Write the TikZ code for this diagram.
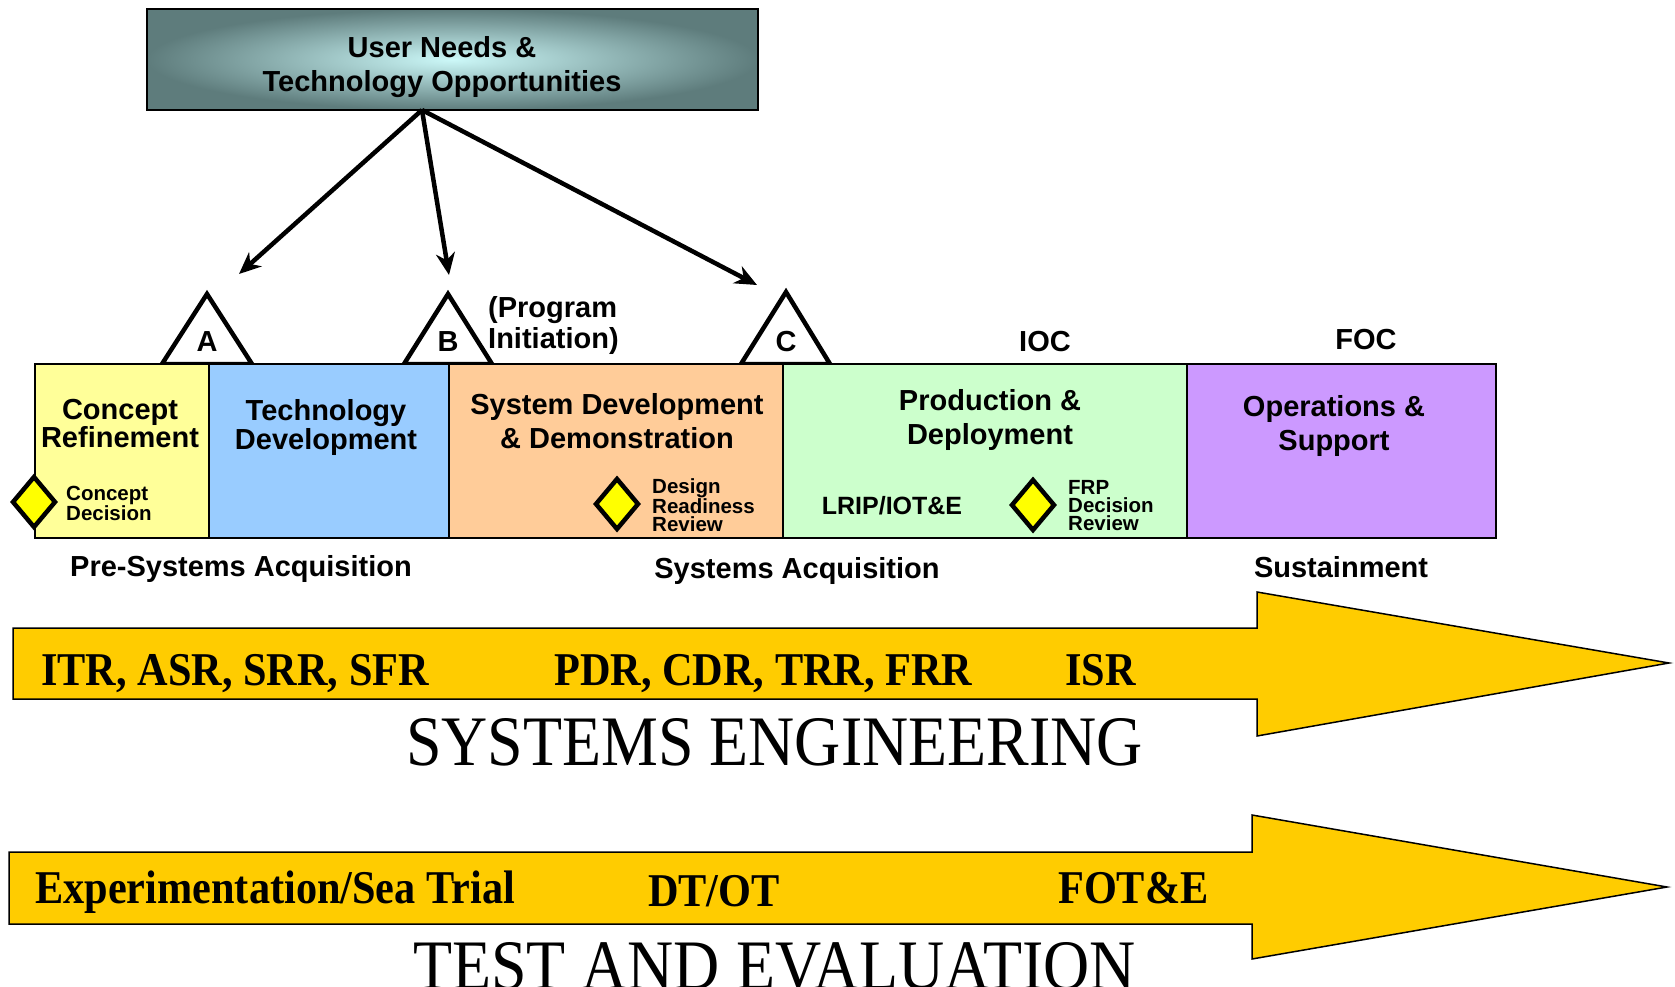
\documentclass[tikz,border=0pt]{standalone}
\usepackage{fontspec}
\setmainfont{Liberation Serif}
\setsansfont{Liberation Sans}
\newfontfamily\tallserif[FakeStretch=0.9]{Liberation Serif}
\usetikzlibrary{arrows.meta}
\definecolor{cryellow}{HTML}{FFFF99}
\definecolor{tdblue}{HTML}{99CCFF}
\definecolor{sdorange}{HTML}{FFCC99}
\definecolor{pdgreen}{HTML}{CCFFCC}
\definecolor{ospurple}{HTML}{CC99FF}
\definecolor{gold}{HTML}{FFCC00}
\definecolor{msyellow}{HTML}{FFFF00}
\definecolor{topin}{HTML}{CCF8F8}
\definecolor{topout}{HTML}{5E7C7C}
\tikzset{
  phase/.style={draw=black, line width=2pt, minimum height=174pt, inner sep=0pt},
  bigtxt/.style={font=\sffamily\bfseries\fontsize{29}{30}\selectfont, align=center, inner sep=0pt},
  smalltxt/.style={font=\sffamily\bfseries\fontsize{20.5}{18}\selectfont, align=left, inner sep=0pt, anchor=west},
  milestone/.style={draw=black, line width=4.5pt, fill=white, line join=miter},
  decision/.style={draw=black, line width=4.5pt, fill=msyellow, line join=miter},
  flowarrow/.style={line width=4.5pt, -{Stealth[length=22pt,width=19pt,inset=7pt]}},
  bigarrow/.style={draw=black, line width=1.5pt, fill=gold, line join=miter},
  revtxt/.style={font=\tallserif\bfseries\fontsize{47}{50}\selectfont, inner sep=0pt},
  titletxt/.style={font=\tallserif\fontsize{71}{75}\selectfont, inner sep=0pt, anchor=base},
}
\begin{document}
\begin{tikzpicture}[x=1pt,y=-1pt]
\useasboundingbox (0,0) rectangle (1675,987);
\clip (0,0) rectangle (1675,987);

% top box
\node[draw=black, line width=2pt, shading=radial, inner color=topin, outer color=topout,
      minimum width=611pt, minimum height=101pt, inner sep=0pt] (top) at (452.5,59.5) {};
\node[bigtxt, font=\sffamily\bfseries\fontsize{29}{34}\selectfont] (toptxt) at (442,67.5)
  {User Needs \&\\Technology Opportunities};
\coordinate (src) at (422,110);
\coordinate (eA) at (239,274);
\coordinate (eB) at (449,275);
\coordinate (eC) at (757,285);
\draw[flowarrow] (src) -- (eA);
\draw[flowarrow] (src) -- (eB);
\draw[flowarrow] (src) -- (eC);

% milestone triangles
\draw[milestone] (162,364) -- (207,294) -- (252,364) -- cycle;
\draw[milestone] (404,364) -- (448,294) -- (492,364) -- cycle;
\draw[milestone] (741,364) -- (786,292) -- (830,364) -- cycle;

% phase boxes
\node[phase, fill=cryellow, minimum width=174pt] (cr) at (122,451) {};
\node[phase, fill=tdblue, minimum width=240pt] (td) at (329,451) {};
\node[phase, fill=sdorange, minimum width=334pt] (sdd) at (616,451) {};
\node[phase, fill=pdgreen, minimum width=404pt] (pd) at (985,451) {};
\node[phase, fill=ospurple, minimum width=309pt] (os) at (1341.5,451) {};

% milestone letters
\node[bigtxt, anchor=base] (lA) at (207,351) {A};
\node[bigtxt, anchor=base] (lB) at (448,351) {B};
\node[bigtxt, anchor=base] (lC) at (786,351) {C};
\node[bigtxt, align=left, anchor=west, font=\sffamily\bfseries\fontsize{29}{31}\selectfont] (prog) at (488,326) {(Program\\Initiation)};
\node[bigtxt, anchor=base] (ioc) at (1045,351) {IOC};
\node[bigtxt, anchor=base] (foc) at (1366,349) {FOC};

% phase labels
\node[bigtxt, font=\sffamily\bfseries\fontsize{29}{28}\selectfont] (crt) at (120,423.5) {Concept\\Refinement};
\node[bigtxt, font=\sffamily\bfseries\fontsize{29}{29}\selectfont] (tdt) at (326,427) {Technology\\Development};
\node[bigtxt, font=\sffamily\bfseries\fontsize{29}{34}\selectfont] (sddt) at (617,421.5) {System Development\\\& Demonstration};
\node[bigtxt, font=\sffamily\bfseries\fontsize{29}{34}\selectfont] (pdt) at (990,419.5) {Production \&\\Deployment};
\node[bigtxt, font=\sffamily\bfseries\fontsize{29}{34}\selectfont] (ost) at (1334,425.5) {Operations \&\\Support};

% decision diamonds
\draw[decision] (34,477) -- (55,502) -- (34,527) -- (13,502) -- cycle;
\draw[decision] (617,479) -- (638,504) -- (617,529) -- (596,504) -- cycle;
\draw[decision] (1033,480) -- (1054,505) -- (1033,530) -- (1012,505) -- cycle;
\node[smalltxt, font=\sffamily\bfseries\fontsize{20.5}{19}\selectfont] (cdt) at (66,503) {Concept\\Decision};
\node[smalltxt] (drr) at (652,505) {Design\\Readiness\\Review};
\node[smalltxt] (frp) at (1068,506) {FRP\\Decision\\Review};
\node[bigtxt, anchor=base, font=\sffamily\bfseries\fontsize{25}{26}\selectfont] (lrip) at (892,514) {LRIP/IOT\&E};

% acquisition categories
\node[bigtxt, anchor=base] (pre) at (241,576) {Pre-Systems Acquisition};
\node[bigtxt, anchor=base] (sa) at (797,578) {Systems Acquisition};
\node[bigtxt, anchor=base] (sus) at (1341,577) {Sustainment};

% systems engineering arrow
\path[bigarrow] (13,628) -- (1257,628) -- (1257,592) -- (1669,663) -- (1257,736) -- (1257,699) -- (13,699) -- cycle;
\node[revtxt, anchor=base west] (se1) at (41,685) {ITR, ASR, SRR, SFR};
\node[revtxt, anchor=base west] (se2) at (554,685) {PDR, CDR, TRR, FRR};
\node[revtxt, anchor=base west] (se3) at (1065,685) {ISR};
\node[titletxt] (se) at (774.5,765) {SYSTEMS ENGINEERING};

% test and evaluation arrow
\path[bigarrow] (9,852) -- (1252,852) -- (1252,815) -- (1667,887) -- (1252,959) -- (1252,924) -- (9,924) -- cycle;
\node[revtxt, anchor=base west] (te1) at (35,903) {Experimentation/Sea Trial};
\node[revtxt, anchor=base west] (te2) at (648,906) {DT/OT};
\node[revtxt, anchor=base west] (te3) at (1058,903) {FOT\&E};
\node[titletxt] (te) at (774.5,989) {TEST AND EVALUATION};
\end{tikzpicture}
\end{document}
